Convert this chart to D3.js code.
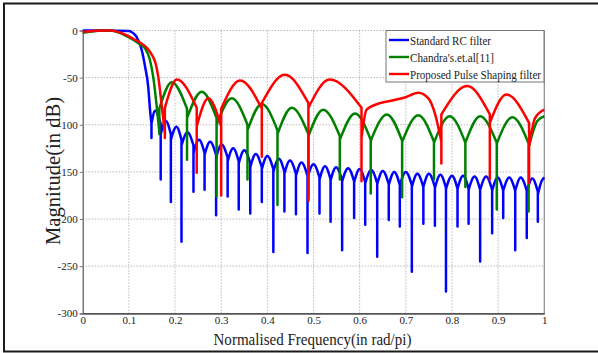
<!DOCTYPE html>
<html>
<head>
<meta charset="utf-8">
<script src="https://cdn.jsdelivr.net/npm/d3@7"></script>
<style>
  body { margin: 0; background: #fff; }
  svg text { font-family: "Liberation Serif", "Times New Roman", serif; }
</style>
</head>
<body>
<script>
// magnitude responses (freq in rad/pi, magnitude in dB)
// every series = nulls (cusps) + the lobes between them (points on each arch)

const freqTicks = [0, 0.1, 0.2, 0.3, 0.4, 0.5, 0.6, 0.7, 0.8, 0.9, 1];
const magTicks = [0, -50, -100, -150, -200, -250, -300];
const seriesNames = ["Standard RC filter", "Chandra's.et.al[11]", "Proposed Pulse Shaping filter"];

const rcNulls = [
  [0.149, -114], [0.169, -158], [0.191, -182], [0.214, -224], [0.240, -171],
  [0.264, -169], [0.289, -196], [0.314, -176], [0.338, -190], [0.363, -194],
  [0.388, -182], [0.413, -235], [0.437, -192], [0.462, -195], [0.487, -236],
  [0.513, -194], [0.537, -203], [0.562, -233], [0.588, -199], [0.612, -206],
  [0.638, -240], [0.663, -201], [0.687, -208], [0.713, -256], [0.738, -205],
  [0.763, -207], [0.787, -277], [0.812, -208], [0.836, -205], [0.861, -245],
  [0.887, -215], [0.911, -199], [0.937, -233], [0.962, -220], [0.986, -203]
];
const rcLobes = [
  [[0, 0], [0.05, 0], [0.1, -0.5], [0.11, -3], [0.117, -7], [0.128, -21], [0.135, -38], [0.142, -60], [0.146, -85]],
  [[0.157, -85]], [[0.180, -96]], [[0.203, -102]], [[0.227, -108]], [[0.252, -116]],
  [[0.276, -118]], [[0.301, -121]], [[0.326, -125]], [[0.350, -127]], [[0.375, -131]],
  [[0.400, -133]], [[0.425, -136]], [[0.449, -138]], [[0.474, -140]], [[0.500, -142]],
  [[0.525, -144]], [[0.549, -145]], [[0.575, -146]], [[0.600, -147]], [[0.625, -148]],
  [[0.650, -149]], [[0.675, -150]], [[0.700, -150]], [[0.725, -152]], [[0.750, -152]],
  [[0.775, -153]], [[0.800, -154]], [[0.824, -154]], [[0.849, -155]], [[0.874, -155]],
  [[0.899, -156]], [[0.924, -156]], [[0.949, -156]], [[0.974, -157]],
  [[0.994, -160], [1.0, -156]]
];

const chandraNulls = [
  [0.166, -110], [0.226, -137], [0.290, -176], [0.357, -158], [0.422, -185],
  [0.489, -178], [0.557, -158], [0.624, -173], [0.692, -177], [0.761, -158],
  [0.829, -166], [0.897, -190], [0.966, -192]
];
const chandraLobes = [
  [[0, -2.5], [0.02, -1], [0.04, 0], [0.06, 0], [0.08, -2.5], [0.095, -6], [0.11, -10],
   [0.125, -15], [0.135, -19], [0.145, -30], [0.153, -50], [0.160, -79]],
  [[0.193, -55]], [[0.258, -65]], [[0.323, -72]], [[0.388, -78]], [[0.453, -82]],
  [[0.521, -84]], [[0.590, -88]], [[0.659, -89]], [[0.727, -90]], [[0.795, -91]],
  [[0.861, -91]], [[0.931, -92]],
  [[0.985, -96], [1.0, -91]]
];

const proposedNulls = [
  [0.178, -114], [0.247, -151], [0.300, -175], [0.388, -134], [0.489, -181],
  [0.604, -160], [0.777, -141], [0.882, -158], [0.967, -162]
];
const proposedLobes = [
  [[0, -1.5], [0.02, -0.5], [0.04, 0], [0.06, 0], [0.08, -2], [0.095, -5], [0.11, -9],
   [0.125, -13], [0.14, -19], [0.149, -25], [0.158, -35], [0.164, -50], [0.171, -79]],
  [[0.204, -52]], [[0.272, -72]], [[0.341, -53]], [[0.438, -47]], [[0.535, -52]],
  [[0.615, -84], [0.644, -77], [0.673, -74], [0.698, -71], [0.727, -66], [0.749, -72], [0.763, -88]],
  [[0.833, -59]], [[0.918, -68]],
  [[0.98, -93], [1.0, -84]]
];

let svg = null;
let x, y = null;
const W = 598, H = 353;
const plot = {left: 82.7, right: 544.3, top: 30.5, bottom: 313.3};

appendSvg("body");
setupScales();
appendFrame();
appendGrid();
appendAxes();
appendCurves();
appendLegend();
appendTitles();

function appendSvg(domElement) {
  svg = d3.select(domElement).append("svg")
    .attr("width", W)
    .attr("height", H);
}

function setupScales() {
  x = d3.scaleLinear().domain([0, 1]).range([plot.left, plot.right]);
  y = d3.scaleLinear().domain([0, -300]).range([plot.top, plot.bottom]);
}

function appendFrame() {
  svg.append("rect")
    .attr("x", 4).attr("y", 3.5)
    .attr("width", 610).attr("height", 348)
    .attr("fill", "none")
    .attr("stroke", "#1a1a1a")
    .attr("stroke-width", 2);
}

function appendGrid() {
  const g = svg.append("g")
    .attr("stroke", "#9a9a9a")
    .attr("stroke-width", 1)
    .attr("stroke-dasharray", "1,2");
  g.selectAll(".vg").data(freqTicks.slice(1, -1)).enter().append("line")
    .attr("x1", d => x(d)).attr("x2", d => x(d))
    .attr("y1", y(0)).attr("y2", y(-300));
  g.selectAll(".hg").data(magTicks.slice(0, -1)).enter().append("line")
    .attr("x1", x(0)).attr("x2", x(1))
    .attr("y1", d => y(d)).attr("y2", d => y(d));
}

function appendAxes() {
  // right border of the box
  svg.append("line")
    .attr("x1", x(1)).attr("x2", x(1))
    .attr("y1", y(0)).attr("y2", y(-300))
    .attr("stroke", "#8c8c8c").attr("stroke-width", 1.2);

  const xAxis = svg.append("g")
    .attr("transform", `translate(0,${y(-300)})`)
    .attr("font-family", "'Liberation Serif', serif")
    .call(d3.axisBottom(x).tickValues(freqTicks).tickSize(0).tickPadding(3)
      .tickFormat(d => String(d)));
  xAxis.select(".domain").attr("stroke", "#555").attr("stroke-width", 1.8);
  xAxis.selectAll("text").attr("font-size", 11).attr("fill", "#222");

  const yAxis = svg.append("g")
    .attr("transform", `translate(${x(0)},0)`)
    .attr("font-family", "'Liberation Serif', serif")
    .call(d3.axisLeft(y).tickValues(magTicks).tickSize(3).tickPadding(2)
      .tickFormat(d => String(d)));
  yAxis.select(".domain").attr("stroke", "#555").attr("stroke-width", 1.2);
  yAxis.selectAll(".tick line").attr("stroke", "#777");
  yAxis.selectAll("text").attr("font-size", 11).attr("fill", "#222");
}

// one arch per lobe, a sharp cusp at each null
function lobePath(nulls, lobes, rim) {
  const line = d3.line()
    .x(d => x(d[0]))
    .y(d => y(d[1]))
    .curve(d3.curveMonotoneX);
  let path = "";
  lobes.forEach((pts, i) => {
    const seg = pts.slice();
    if (i > 0) {
      const n = nulls[i - 1];
      seg.unshift([n[0], Math.max(pts[0][1] - rim, n[1])]);
    }
    if (i < nulls.length) {
      const n = nulls[i];
      seg.push([n[0], Math.max(pts[pts.length - 1][1] - rim, n[1])]);
    }
    let p = line(seg);
    if (i > 0) p = "L" + p.slice(1);
    path += p;
    if (i < nulls.length) path += `L${x(nulls[i][0])},${y(nulls[i][1])}`;
  });
  return path;
}

function appendCurves() {
  const series = [
    {nulls: rcNulls, lobes: rcLobes, rim: 14, color: "#0000ff", w: 2.5},
    {nulls: chandraNulls, lobes: chandraLobes, rim: 28, color: "#008000", w: 2.5},
    {nulls: proposedNulls, lobes: proposedLobes, rim: 30, color: "#ff0000", w: 2.5}
  ];
  svg.selectAll(".curve").data(series).enter().append("path")
    .attr("class", "curve")
    .attr("d", d => lobePath(d.nulls, d.lobes, d.rim))
    .attr("fill", "none")
    .attr("stroke", d => d.color)
    .attr("stroke-width", d => d.w)
    .attr("stroke-linejoin", "round");
}

function appendLegend() {
  const colors = ["#0000ff", "#008000", "#ff0000"];
  const widths = [81, 84, 131];
  const lg = svg.append("g").attr("transform", "translate(386,30.5)");
  lg.append("rect")
    .attr("width", 158).attr("height", 51.5)
    .attr("fill", "#fff")
    .attr("stroke", "#777").attr("stroke-width", 1);
  const items = lg.selectAll(".item").data(seriesNames).enter().append("g")
    .attr("transform", (d, i) => `translate(0,${9.5 + i * 17})`);
  items.append("line")
    .attr("x1", 3).attr("x2", 23)
    .attr("stroke", (d, i) => colors[i]).attr("stroke-width", 2.4);
  items.append("text")
    .attr("x", 24).attr("y", 4.5)
    .attr("font-size", 13).attr("fill", "#222")
    .attr("textLength", (d, i) => widths[i])
    .attr("lengthAdjust", "spacingAndGlyphs")
    .text(d => d);
}

function appendTitles() {
  svg.append("text")
    .attr("x", 312.5).attr("y", 345)
    .attr("text-anchor", "middle")
    .attr("font-size", 17).attr("fill", "#222")
    .attr("textLength", 198).attr("lengthAdjust", "spacingAndGlyphs")
    .text("Normalised Frequency(in rad/pi)");
  svg.append("text")
    .attr("transform", "translate(59.5,171) rotate(-90)")
    .attr("text-anchor", "middle")
    .attr("font-size", 20).attr("fill", "#222")
    .attr("textLength", 148).attr("lengthAdjust", "spacingAndGlyphs")
    .text("Magnitude(in dB)");
}
</script>
</body>
</html>
